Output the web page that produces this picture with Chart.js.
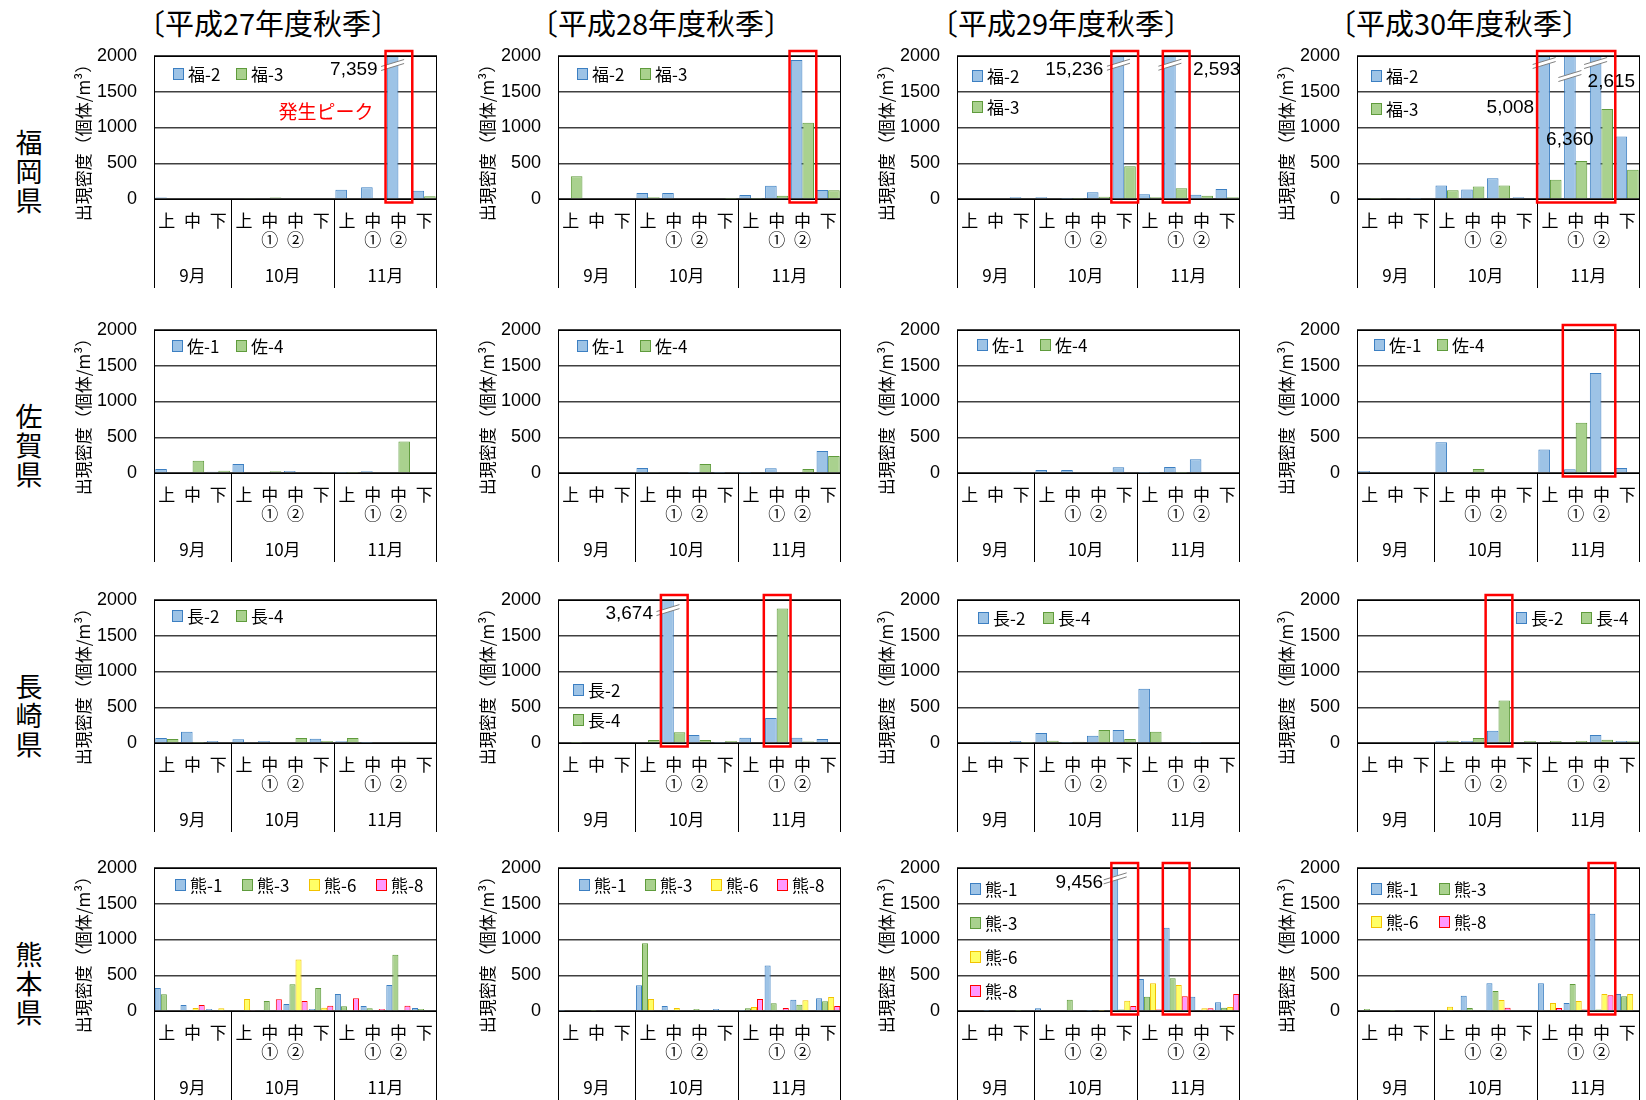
<!DOCTYPE html>
<html lang="ja">
<head>
    <meta charset="UTF-8">
    <title>出現密度 秋季</title>
    <script src="https://cdn.jsdelivr.net/npm/chart.js"></script>
    <style>
        body {
            margin: 0;
            width: 1646px;
            height: 1100px;
            background: #fff;
            overflow: hidden;
            font-family: 'Noto Sans CJK JP', sans-serif;
            color: #000;
        }
        #page { position: relative; width: 1646px; height: 1100px; }
        .title {
            position: absolute;
            font-size: 29px;
            line-height: 1;
            white-space: nowrap;
            transform: translate(-50%, -50%);
        }
        .pref {
            position: absolute;
            font-size: 27px;
            line-height: 1;
            writing-mode: vertical-rl;
            text-orientation: upright;
            letter-spacing: 2px;
            transform: translate(-50%, -50%);
        }
        .panel { position: absolute; }
        .panel canvas { display: block; }
    </style>
</head>
<body>
<div id="page"></div>
<script>
    // ---- labels ----
    const categoryLabels = [['上'], ['中'], ['下'], ['上'], ['中', '①'], ['中', '②'], ['下'], ['上'], ['中', '①'], ['中', '②'], ['下']];
    const monthLabels = ['9月', '10月', '11月'];
    const monthSizes = [3, 4, 4];
    const seasonTitles = ['〔平成27年度秋季〕', '〔平成28年度秋季〕', '〔平成29年度秋季〕', '〔平成30年度秋季〕'];
    const prefNames = ['福岡県', '佐賀県', '長崎県', '熊本県'];
    const yTitle = '出現密度（個体/m³）';
    const yMax = 2000;
    const yStep = 500;

    // ---- 福岡 ----
    const fuku2_H27 = [20, 0, 0, 0, 0, 0, 0, 130, 165, 7359, 115];
    const fuku3_H27 = [0, 0, 0, 8, 20, 0, 0, 0, 10, 0, 40];
    const fuku2_H28 = [0, 0, 0, 84, 84, 0, 10, 56, 187, 1943, 126];
    const fuku3_H28 = [318, 0, 0, 23, 0, 0, 5, 5, 47, 1065, 121];
    const fuku2_H29 = [0, 0, 23, 23, 5, 94, 15236, 66, 2593, 61, 140];
    const fuku3_H29 = [0, 0, 0, 0, 5, 33, 459, 23, 150, 47, 23];
    const fuku2_H30 = [8, 0, 5, 188, 133, 289, 23, 5008, 6360, 2615, 875];
    const fuku3_H30 = [3, 15, 0, 124, 174, 188, 0, 270, 531, 1260, 408];

    // ---- 佐賀 ----
    const saga1_H27 = [56, 0, 19, 126, 0, 28, 0, 5, 23, 0, 0];
    const saga4_H27 = [0, 173, 33, 0, 23, 0, 14, 5, 0, 440, 0];
    const saga1_H28 = [0, 0, 0, 70, 0, 5, 5, 5, 65, 0, 308];
    const saga4_H28 = [0, 0, 0, 14, 0, 126, 0, 0, 0, 56, 238];
    const saga1_H29 = [0, 0, 19, 42, 42, 10, 79, 5, 84, 192, 0];
    const saga4_H29 = [0, 0, 0, 0, 0, 14, 0, 0, 5, 0, 0];
    const saga1_H30 = [28, 10, 0, 430, 10, 0, 0, 328, 51, 1400, 70];
    const saga4_H30 = [0, 10, 0, 10, 56, 0, 0, 0, 702, 0, 10];

    // ---- 長崎 ----
    const naga2_H27 = [70, 159, 28, 51, 28, 0, 61, 23, 5, 10, 10];
    const naga4_H27 = [56, 5, 0, 0, 10, 70, 28, 70, 10, 19, 0];
    const naga2_H28 = [0, 0, 0, 0, 3674, 112, 5, 75, 350, 75, 56];
    const naga4_H28 = [5, 0, 0, 42, 150, 42, 28, 0, 1880, 20, 10];
    const naga2_H29 = [0, 19, 28, 140, 5, 103, 182, 758, 0, 5, 0];
    const naga4_H29 = [0, 0, 5, 33, 19, 182, 56, 159, 0, 0, 10];
    const naga2_H30 = [0, 0, 0, 23, 28, 173, 0, 0, 0, 112, 28];
    const naga4_H30 = [0, 0, 0, 33, 70, 594, 28, 28, 28, 47, 23];

    // ---- 熊本 ----
    const kuma1_H27 = [322, 84, 28, 0, 0, 98, 28, 238, 70, 364, 42];
    const kuma3_H27 = [234, 0, 0, 0, 140, 374, 322, 65, 37, 785, 28];
    const kuma6_H27 = [0, 42, 37, 168, 0, 719, 47, 14, 10, 0, 10];
    const kuma8_H27 = [0, 84, 0, 14, 164, 140, 75, 177, 28, 75, 0];
    const kuma1_H28 = [3, 0, 0, 360, 70, 0, 28, 5, 635, 159, 177];
    const kuma3_H28 = [0, 5, 0, 948, 10, 28, 0, 37, 107, 89, 135];
    const kuma6_H28 = [0, 0, 0, 168, 42, 10, 0, 56, 0, 149, 196];
    const kuma8_H28 = [0, 0, 0, 10, 0, 0, 0, 168, 42, 10, 70];
    const kuma1_H29 = [0, 5, 0, 37, 0, 5, 9456, 448, 1163, 200, 121];
    const kuma3_H29 = [0, 0, 5, 0, 159, 0, 20, 200, 458, 0, 47];
    const kuma6_H29 = [0, 0, 0, 0, 0, 5, 145, 388, 364, 37, 56];
    const kuma8_H29 = [0, 0, 0, 0, 0, 10, 70, 20, 205, 37, 238];
    const kuma1_H30 = [10, 0, 0, 10, 215, 388, 10, 388, 112, 1359, 238];
    const kuma3_H30 = [28, 5, 0, 0, 42, 280, 10, 10, 378, 20, 205];
    const kuma6_H30 = [0, 0, 0, 61, 10, 154, 0, 112, 140, 238, 238];
    const kuma8_H30 = [0, 0, 0, 10, 10, 47, 10, 42, 20, 220, 0];

    const seriesColors = {
        blue: ['#9DC3E6', '#3C7FC2'],
        green: ['#A9D18E', '#5F9B3C'],
        yellow: ['#FFFF66', '#F2C200'],
        pink: ['#FF99FF', '#FF0000']
    };

    const rows = [
        { names: ['福-2', '福-3'], colors: ['blue', 'green'],
          data: [[fuku2_H27, fuku3_H27], [fuku2_H28, fuku3_H28], [fuku2_H29, fuku3_H29], [fuku2_H30, fuku3_H30]] },
        { names: ['佐-1', '佐-4'], colors: ['blue', 'green'],
          data: [[saga1_H27, saga4_H27], [saga1_H28, saga4_H28], [saga1_H29, saga4_H29], [saga1_H30, saga4_H30]] },
        { names: ['長-2', '長-4'], colors: ['blue', 'green'],
          data: [[naga2_H27, naga4_H27], [naga2_H28, naga4_H28], [naga2_H29, naga4_H29], [naga2_H30, naga4_H30]] },
        { names: ['熊-1', '熊-3', '熊-6', '熊-8'], colors: ['blue', 'green', 'yellow', 'pink'],
          data: [[kuma1_H27, kuma3_H27, kuma6_H27, kuma8_H27], [kuma1_H28, kuma3_H28, kuma6_H28, kuma8_H28],
                 [kuma1_H29, kuma3_H29, kuma6_H29, kuma8_H29], [kuma1_H30, kuma3_H30, kuma6_H30, kuma8_H30]] }
    ];

    // ---- layout ----
    const plotLeft = [154, 558, 957, 1357];
    const plotTop = [56, 330, 600, 868];
    const plotW = 283, plotH = 143;
    // top padding must cover the y tick padding + half a label, or Chart.js pushes the plot down
    const axisW = 95, catAreaH = 90, padTop = 28, padRight = 10, padBottom = 2;
    const titleX = [268, 661, 1061, 1459];

    // legend placement inside each plot (offset from plot top-left)
    const legendLayouts = [
        [{ x: 19, y: 18, sx: 63, sy: 0, cols: 2 }, { x: 19, y: 18, sx: 63, sy: 0, cols: 2 },
         { x: 15, y: 20, sx: 0, sy: 31, cols: 1 }, { x: 14, y: 20, sx: 0, sy: 33, cols: 1 }],
        [{ x: 18, y: 16, sx: 64, sy: 0, cols: 2 }, { x: 19, y: 16, sx: 63, sy: 0, cols: 2 },
         { x: 20, y: 15, sx: 63, sy: 0, cols: 2 }, { x: 17, y: 15, sx: 63, sy: 0, cols: 2 }],
        [{ x: 18, y: 16, sx: 64, sy: 0, cols: 2 }, { x: 15, y: 90, sx: 0, sy: 30, cols: 1 },
         { x: 21, y: 18, sx: 65, sy: 0, cols: 2 }, { x: 159, y: 18, sx: 65, sy: 0, cols: 2 }],
        [{ x: 21, y: 17, sx: 67, sy: 0, cols: 4 }, { x: 21, y: 17, sx: 66, sy: 0, cols: 4 },
         { x: 13, y: 21, sx: 0, sy: 34, cols: 1 }, { x: 14, y: 21, sx: 68, sy: 33, cols: 2 }]
    ];

    // red highlight boxes: [first category, last category]
    const redBoxes = {
        '0-0': [[9, 9]], '0-1': [[9, 9]], '0-2': [[6, 6], [8, 8]], '0-3': [[7, 9]],
        '1-3': [[8, 9]], '2-1': [[4, 4], [8, 8]], '2-3': [[5, 5]],
        '3-2': [[6, 6], [8, 8]], '3-3': [[9, 9]]
    };

    // broken bars (value above 2000): where the break sits and its label
    const breakMarks = {
        '0-0': [{ ds: 0, idx: 9, at: 1846, text: '7,359', dx: -15, dy: 3, align: 'right' }],
        '0-2': [{ ds: 0, idx: 6, at: 1850, text: '15,236', dx: -15, dy: 3, align: 'right' },
                { ds: 0, idx: 8, at: 1850, text: '2,593', dx: 23, dy: 3, align: 'left' }],
        '0-3': [{ ds: 0, idx: 7, at: 1874, text: '5,008', dx: -10, dy: 43, align: 'right' },
                { ds: 0, idx: 8, at: 1692, text: '6,360', dx: 0, dy: 62, align: 'center' },
                { ds: 0, idx: 9, at: 1874, text: '2,615', dx: -8, dy: 17, align: 'left' }],
        '2-1': [{ ds: 0, idx: 4, at: 1831, text: '3,674', dx: -15, dy: 2, align: 'right' }],
        '3-2': [{ ds: 0, idx: 6, at: 1827, text: '9,456', dx: -12, dy: 2, align: 'right' }]
    };

    const notes = {
        '0-0': [{ text: '発生ピーク', x: 172, y: 56, color: '#FF0000' }]
    };

    Chart.defaults.font.family = "'Noto Sans CJK JP', sans-serif";
    Chart.defaults.color = '#000';

    function makeDecor(key, legend) {
        return {
            id: 'decor',
            afterDatasetsDraw(chart) {
                const { ctx, chartArea: a, scales: { x } } = chart;
                const cw = x.getPixelForValue(1) - x.getPixelForValue(0);
                ctx.save();
                ctx.strokeStyle = '#000';
                ctx.lineWidth = 1;
                ctx.beginPath();
                // zero line + plot frame
                ctx.moveTo(a.left, a.bottom + 0.5); ctx.lineTo(a.right, a.bottom + 0.5);
                ctx.moveTo(a.left, a.top + 0.5); ctx.lineTo(a.right, a.top + 0.5);
                ctx.moveTo(a.left + 0.5, a.top); ctx.lineTo(a.left + 0.5, a.bottom + catAreaH - 1);
                ctx.moveTo(a.right - 0.5, a.top); ctx.lineTo(a.right - 0.5, a.bottom + catAreaH - 1);
                // month separators
                let start = 0;
                monthSizes.forEach((n, m) => {
                    if (m > 0) {
                        const sx = Math.round(x.getPixelForValue(start) - cw / 2) + 0.5;
                        ctx.moveTo(sx, a.bottom); ctx.lineTo(sx, a.bottom + catAreaH - 1);
                    }
                    start += n;
                });
                ctx.stroke();
                ctx.restore();
            },
            afterDraw(chart) {
                const { ctx, chartArea: a, scales: { x, y } } = chart;
                const cw = x.getPixelForValue(1) - x.getPixelForValue(0);
                ctx.save();

                // breaks on bars taller than the axis
                (breakMarks[key] || []).forEach(b => {
                    const bar = chart.getDatasetMeta(b.ds).data[b.idx];
                    const bx = bar.x, y0 = y.getPixelForValue(b.at);
                    const hw = 11.5, rise = 3.5, gap = 4;
                    ctx.fillStyle = '#fff';
                    ctx.beginPath();
                    ctx.moveTo(bx - hw, y0 + rise);
                    ctx.lineTo(bx + hw, y0 - rise);
                    ctx.lineTo(bx + hw, y0 - rise - gap);
                    ctx.lineTo(bx - hw, y0 + rise - gap);
                    ctx.closePath();
                    ctx.fill();
                    ctx.strokeStyle = '#7F7F7F';
                    ctx.lineWidth = 1;
                    ctx.beginPath();
                    ctx.moveTo(bx - hw, y0 + rise); ctx.lineTo(bx + hw, y0 - rise);
                    ctx.moveTo(bx - hw, y0 + rise - gap); ctx.lineTo(bx + hw, y0 - rise - gap);
                    ctx.stroke();
                    ctx.fillStyle = '#000';
                    ctx.font = "19px 'Liberation Sans', sans-serif";
                    ctx.textAlign = b.align;
                    ctx.textBaseline = 'middle';
                    ctx.fillText(b.text, bx + b.dx, y0 + b.dy);
                });

                // red highlight boxes
                ctx.strokeStyle = '#FF0000';
                ctx.lineWidth = 2.5;
                (redBoxes[key] || []).forEach(([s, e]) => {
                    const x1 = x.getPixelForValue(s) - cw / 2;
                    const x2 = x.getPixelForValue(e) + cw / 2 + 1;
                    ctx.strokeRect(x1, a.top - 5, x2 - x1, a.bottom - a.top + 8.5);
                });

                // legend inside the plot
                ctx.font = "17px 'Noto Sans CJK JP', sans-serif";
                ctx.textAlign = 'left';
                ctx.textBaseline = 'middle';
                chart.data.datasets.forEach((ds, i) => {
                    const col = i % legend.cols, row = Math.floor(i / legend.cols);
                    const lx = a.left + legend.x + col * legend.sx;
                    const ly = a.top + legend.y + row * legend.sy;
                    ctx.fillStyle = ds.backgroundColor;
                    ctx.fillRect(lx, ly - 6, 11, 12);
                    ctx.strokeStyle = ds.borderColor;
                    ctx.lineWidth = 1;
                    ctx.strokeRect(lx + 0.5, ly - 5.5, 10, 11);
                    ctx.fillStyle = '#000';
                    ctx.fillText(ds.label, lx + 15, ly + 1);
                });

                // free notes
                (notes[key] || []).forEach(n => {
                    ctx.fillStyle = n.color;
                    ctx.font = "19px 'Noto Sans CJK JP', sans-serif";
                    ctx.textAlign = 'center';
                    ctx.fillText(n.text, a.left + n.x, a.top + n.y);
                });

                // month labels
                ctx.fillStyle = '#000';
                ctx.font = "17px 'Noto Sans CJK JP', sans-serif";
                ctx.textAlign = 'center';
                let start = 0;
                monthSizes.forEach((n, m) => {
                    const cx = (x.getPixelForValue(start) + x.getPixelForValue(start + n - 1)) / 2;
                    ctx.fillText(monthLabels[m], cx, a.bottom + 77);
                    start += n;
                });

                // y axis title
                ctx.translate(a.left - 70, a.bottom - 60.5);
                ctx.rotate(-Math.PI / 2);
                ctx.font = "17px 'Noto Sans CJK JP', sans-serif";
                ctx.fillText(yTitle, 0, 0);
                ctx.restore();
            }
        };
    }

    const page = document.getElementById('page');

    seasonTitles.forEach((t, c) => {
        const el = document.createElement('div');
        el.className = 'title';
        el.textContent = t;
        el.style.left = titleX[c] + 'px';
        el.style.top = '22px';
        page.appendChild(el);
    });

    prefNames.forEach((p, r) => {
        const el = document.createElement('div');
        el.className = 'pref';
        el.textContent = p;
        el.style.left = '29px';
        el.style.top = (plotTop[r] + plotH - 26) + 'px';
        page.appendChild(el);
    });

    rows.forEach((row, r) => {
        for (let c = 0; c < 4; c++) {
            const key = r + '-' + c;
            const wrap = document.createElement('div');
            wrap.className = 'panel';
            wrap.style.left = (plotLeft[c] - axisW) + 'px';
            wrap.style.top = (plotTop[r] - padTop) + 'px';
            const cv = document.createElement('canvas');
            cv.width = axisW + plotW + padRight;
            cv.height = padTop + plotH + catAreaH + padBottom;
            wrap.appendChild(cv);
            page.appendChild(wrap);

            const many = row.names.length > 2;
            const datasets = row.names.map((name, i) => ({
                label: name,
                data: row.data[c][i],
                backgroundColor: seriesColors[row.colors[i]][0],
                borderColor: seriesColors[row.colors[i]][1],
                borderWidth: 1,
                clip: 0,
                categoryPercentage: many ? 0.94 : 0.9,
                barPercentage: 1
            }));

            new Chart(cv, {
                type: 'bar',
                data: { labels: categoryLabels, datasets: datasets },
                options: {
                    responsive: false,
                    animation: false,
                    devicePixelRatio: 1,
                    layout: { padding: { top: padTop, right: padRight, bottom: padBottom, left: 0 } },
                    plugins: { legend: { display: false }, tooltip: { enabled: false } },
                    scales: {
                        x: {
                            grid: { display: false, drawTicks: false },
                            border: { display: false },
                            ticks: {
                                autoSkip: false, maxRotation: 0, minRotation: 0, padding: 12,
                                font: { size: 17, lineHeight: 1.1 }
                            },
                            afterFit(scale) { scale.height = catAreaH; }
                        },
                        y: {
                            min: 0, max: yMax,
                            grid: { color: '#404040', lineWidth: 1.5, drawTicks: false },
                            border: { display: false },
                            ticks: {
                                stepSize: yStep, padding: 17,
                                font: { family: "'Liberation Sans', sans-serif", size: 18 },
                                callback: v => String(v)
                            },
                            afterFit(scale) { scale.width = axisW; }
                        }
                    }
                },
                plugins: [makeDecor(key, legendLayouts[r][c])]
            });
        }
    });
</script>
</body>
</html>
